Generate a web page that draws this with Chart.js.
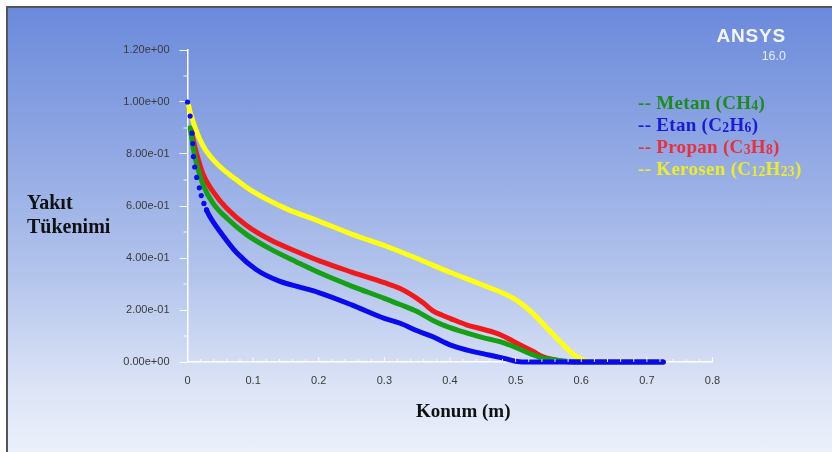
<!DOCTYPE html>
<html>
<head>
<meta charset="utf-8">
<script src="https://cdn.jsdelivr.net/npm/chart.js@4.4.1/dist/chart.umd.min.js"></script>
<style>
  html, body { margin: 0; padding: 0; background: #fff; }
  #wrap { position: relative; width: 832px; height: 452px; overflow: hidden; }
  #panel {
    position: absolute; left: 6px; top: 6px; right: 0; bottom: 0;
    border-left: 2px solid #555; border-top: 2px solid #555;
    background: linear-gradient(to bottom, #6b8adb 0%, #8ea6e3 30%, #b3c4ec 60%, #dbe3f6 85%, #ebf0fb 100%);
  }
  #chart { position: absolute; left: 0; top: 0; }
  .lbl { position: absolute; font-family: 'Liberation Serif', 'Times New Roman', serif; font-weight: bold; white-space: nowrap; }
  #ytitle { left: 27px; top: 190px; font-size: 20px; line-height: 24px; color: #111; }
  #xtitle { left: 416px; top: 400px; font-size: 19px; color: #111; }
  #legend { left: 638px; top: 92px; font-size: 19px; letter-spacing: 0.3px; }
  #legend div { height: 22px; line-height: 22px; }
  #legend sub { font-size: 72%; line-height: 0; vertical-align: -0.08em; }
  #logo { position: absolute; right: 46px; top: 25px; text-align: right; color: #f2f5ff;
          font-family: 'Liberation Sans', Arial, sans-serif; font-weight: bold; }
  #logo .big { font-size: 19px; letter-spacing: 0.8px; line-height: 22px; }
  #logo .small { font-size: 12.5px; line-height: 14px; margin-top: 2px; font-weight: normal; color: #e6ecfa; }
</style>
</head>
<body>
<div id="wrap">
  <div id="panel"></div>
  <canvas id="chart" width="832" height="452"></canvas>
  <div id="ytitle" class="lbl">Yakıt<br>Tükenimi</div>
  <div id="xtitle" class="lbl">Konum (m)</div>
  <div id="legend" class="lbl">
    <div style="color:#1e8b1e">-- Metan (CH<sub>4</sub>)</div>
    <div style="color:#1a1ad8">-- Etan (C<sub>2</sub>H<sub>6</sub>)</div>
    <div style="color:#e8313c">-- Propan (C<sub>3</sub>H<sub>8</sub>)</div>
    <div style="color:#ecec2a">-- Kerosen (C<sub>12</sub>H<sub>23</sub>)</div>
  </div>
  <div id="logo"><div class="big">ANSYS</div><div class="small">16.0</div></div>
</div>
<script>
// fuel consumption along the duct, one curve per fuel
const seriesNames = ['Metan (CH4)', 'Etan (C2H6)', 'Propan (C3H8)', 'Kerosen (C12H23)'];

const metanX = [0.004, 0.006, 0.009, 0.014, 0.024, 0.039, 0.06, 0.09, 0.126, 0.166, 0.202, 0.25, 0.3, 0.324, 0.349, 0.374, 0.4, 0.425, 0.45, 0.476, 0.502, 0.527, 0.542, 0.563, 0.58, 0.6, 0.65, 0.7, 0.725];
const metanY = [0.90, 0.87, 0.82, 0.76, 0.68, 0.61, 0.553, 0.49, 0.435, 0.385, 0.342, 0.292, 0.245, 0.221, 0.195, 0.16, 0.132, 0.112, 0.094, 0.078, 0.054, 0.027, 0.015, 0.007, 0.002, 0, 0, 0, 0];

const etanX = [0, 0.004, 0.007, 0.008, 0.009, 0.011, 0.014, 0.018, 0.021, 0.025, 0.029, 0.034, 0.05, 0.075, 0.105, 0.141, 0.171, 0.2, 0.25, 0.3, 0.324, 0.35, 0.374, 0.4, 0.426, 0.45, 0.476, 0.49, 0.5, 0.51, 0.55, 0.6, 0.65, 0.7, 0.725];
const etanY = [1.0, 0.946, 0.88, 0.84, 0.79, 0.75, 0.71, 0.67, 0.64, 0.61, 0.585, 0.56, 0.50, 0.42, 0.355, 0.31, 0.288, 0.267, 0.22, 0.168, 0.149, 0.12, 0.097, 0.066, 0.046, 0.032, 0.018, 0.009, 0.003, 0, 0, 0, 0, 0, 0];

const propanX = [0.006, 0.009, 0.014, 0.024, 0.039, 0.06, 0.09, 0.126, 0.166, 0.202, 0.25, 0.3, 0.324, 0.339, 0.359, 0.374, 0.39, 0.4, 0.425, 0.45, 0.476, 0.502, 0.527, 0.542, 0.557, 0.57, 0.59, 0.65, 0.725];
const propanY = [0.89, 0.85, 0.80, 0.72, 0.655, 0.59, 0.525, 0.47, 0.425, 0.388, 0.346, 0.305, 0.283, 0.262, 0.228, 0.197, 0.178, 0.168, 0.143, 0.126, 0.106, 0.072, 0.04, 0.02, 0.01, 0.003, 0, 0, 0];

const kerosenX = [0.002, 0.004, 0.008, 0.011, 0.024, 0.044, 0.075, 0.1, 0.15, 0.2, 0.25, 0.3, 0.35, 0.4, 0.45, 0.5, 0.525, 0.55, 0.575, 0.59, 0.605, 0.615, 0.65, 0.725];
const kerosenY = [0.985, 0.96, 0.93, 0.905, 0.83, 0.765, 0.70, 0.655, 0.59, 0.542, 0.492, 0.448, 0.398, 0.345, 0.296, 0.24, 0.19, 0.125, 0.06, 0.025, 0.006, 0, 0, 0];

const xTicks = [0, 0.1, 0.2, 0.3, 0.4, 0.5, 0.6, 0.7, 0.8];
const yTicks = [0, 0.2, 0.4, 0.6, 0.8, 1.0, 1.2];

function pts(xs, ys) {
    return xs.map((x, i) => ({ x: x, y: ys[i] }));
}

// 1.20e+00 style labels
function sci(v) {
    const parts = Number(v).toExponential(2).split('e');
    const n = parseInt(parts[1]);
    return parts[0] + 'e' + (n < 0 ? '-' : '+') + String(Math.abs(n)).padStart(2, '0');
}

function curve(label, data, color, order) {
    return {
        label: label,
        data: data,
        showLine: true,
        borderColor: color,
        backgroundColor: color,
        borderWidth: 5,
        borderCapStyle: 'round',
        borderJoinStyle: 'round',
        pointRadius: 0,
        pointBorderWidth: 0,
        cubicInterpolationMode: 'monotone',
        clip: 8,
        order: order
    };
}

// small ticks between the labelled ones
const minorTicks = {
    id: 'minorTicks',
    afterDraw(chart) {
        const ctx = chart.ctx;
        const xs = chart.scales.x, ys = chart.scales.y;
        const base = ys.getPixelForValue(0);
        const left = xs.getPixelForValue(0);
        ctx.save();
        ctx.strokeStyle = 'rgba(255,255,255,0.9)';
        ctx.lineWidth = 1;
        for (let i = 0; i <= 40; i++) {
            const px = xs.getPixelForValue(i * 0.02);
            const len = i % 5 === 0 ? 5 : 3;
            ctx.beginPath();
            ctx.moveTo(px, base);
            ctx.lineTo(px, base - len);
            ctx.stroke();
        }
        for (let i = 1; i < 12; i += 2) {
            const py = ys.getPixelForValue(i * 0.1);
            ctx.beginPath();
            ctx.moveTo(left, py);
            ctx.lineTo(left - 4, py);
            ctx.stroke();
        }
        ctx.restore();
    }
};

const tickFont = { family: "'Liberation Sans', Arial, sans-serif", size: 11 };

// the first ethane samples are sparse, so they show as separate dots
const etan = curve(seriesNames[1], pts(etanX, etanY), '#0a0af0', 0);
etan.pointRadius = c => c.dataIndex < 11 ? 2.6 : 0;
etan.segment = { borderColor: c => c.p0DataIndex < 10 ? 'transparent' : undefined };

new Chart(document.getElementById('chart'), {
    type: 'scatter',
    data: {
        datasets: [
            curve(seriesNames[0], pts(metanX, metanY), '#16a016', 1),
            etan,
            curve(seriesNames[2], pts(propanX, propanY), '#f01a1a', 2),
            curve(seriesNames[3], pts(kerosenX, kerosenY), '#ffff14', 3)
        ]
    },
    options: {
        responsive: false,
        animation: false,
        layout: { padding: { left: 0, top: 50, right: 119.5, bottom: 0 } },
        plugins: { legend: { display: false }, tooltip: { enabled: false } },
        scales: {
            x: {
                type: 'linear',
                min: 0, max: 0.8,
                afterBuildTicks: s => { s.ticks = xTicks.map(v => ({ value: v })); },
                afterFit: s => { s.height = 90; },
                grid: { display: true, drawOnChartArea: false, drawTicks: false, color: 'transparent' },
                border: { display: true, color: '#ffffff', width: 1.5 },
                ticks: {
                    padding: 12,
                    color: '#3a3a3a',
                    font: tickFont,
                    maxRotation: 0,
                    callback: v => String(+v.toFixed(1))
                }
            },
            y: {
                type: 'linear',
                min: 0, max: 1.2,
                afterBuildTicks: s => { s.ticks = yTicks.map(v => ({ value: v })); },
                afterFit: s => { s.width = 187.5; },
                grid: { display: true, drawOnChartArea: false, drawTicks: true, tickLength: 8, color: '#ffffff' },
                border: { display: true, color: '#ffffff', width: 1.5 },
                ticks: {
                    padding: 10,
                    color: '#3a3a3a',
                    font: tickFont,
                    callback: v => sci(v)
                }
            }
        }
    },
    plugins: [minorTicks]
});
</script>
</body>
</html>
